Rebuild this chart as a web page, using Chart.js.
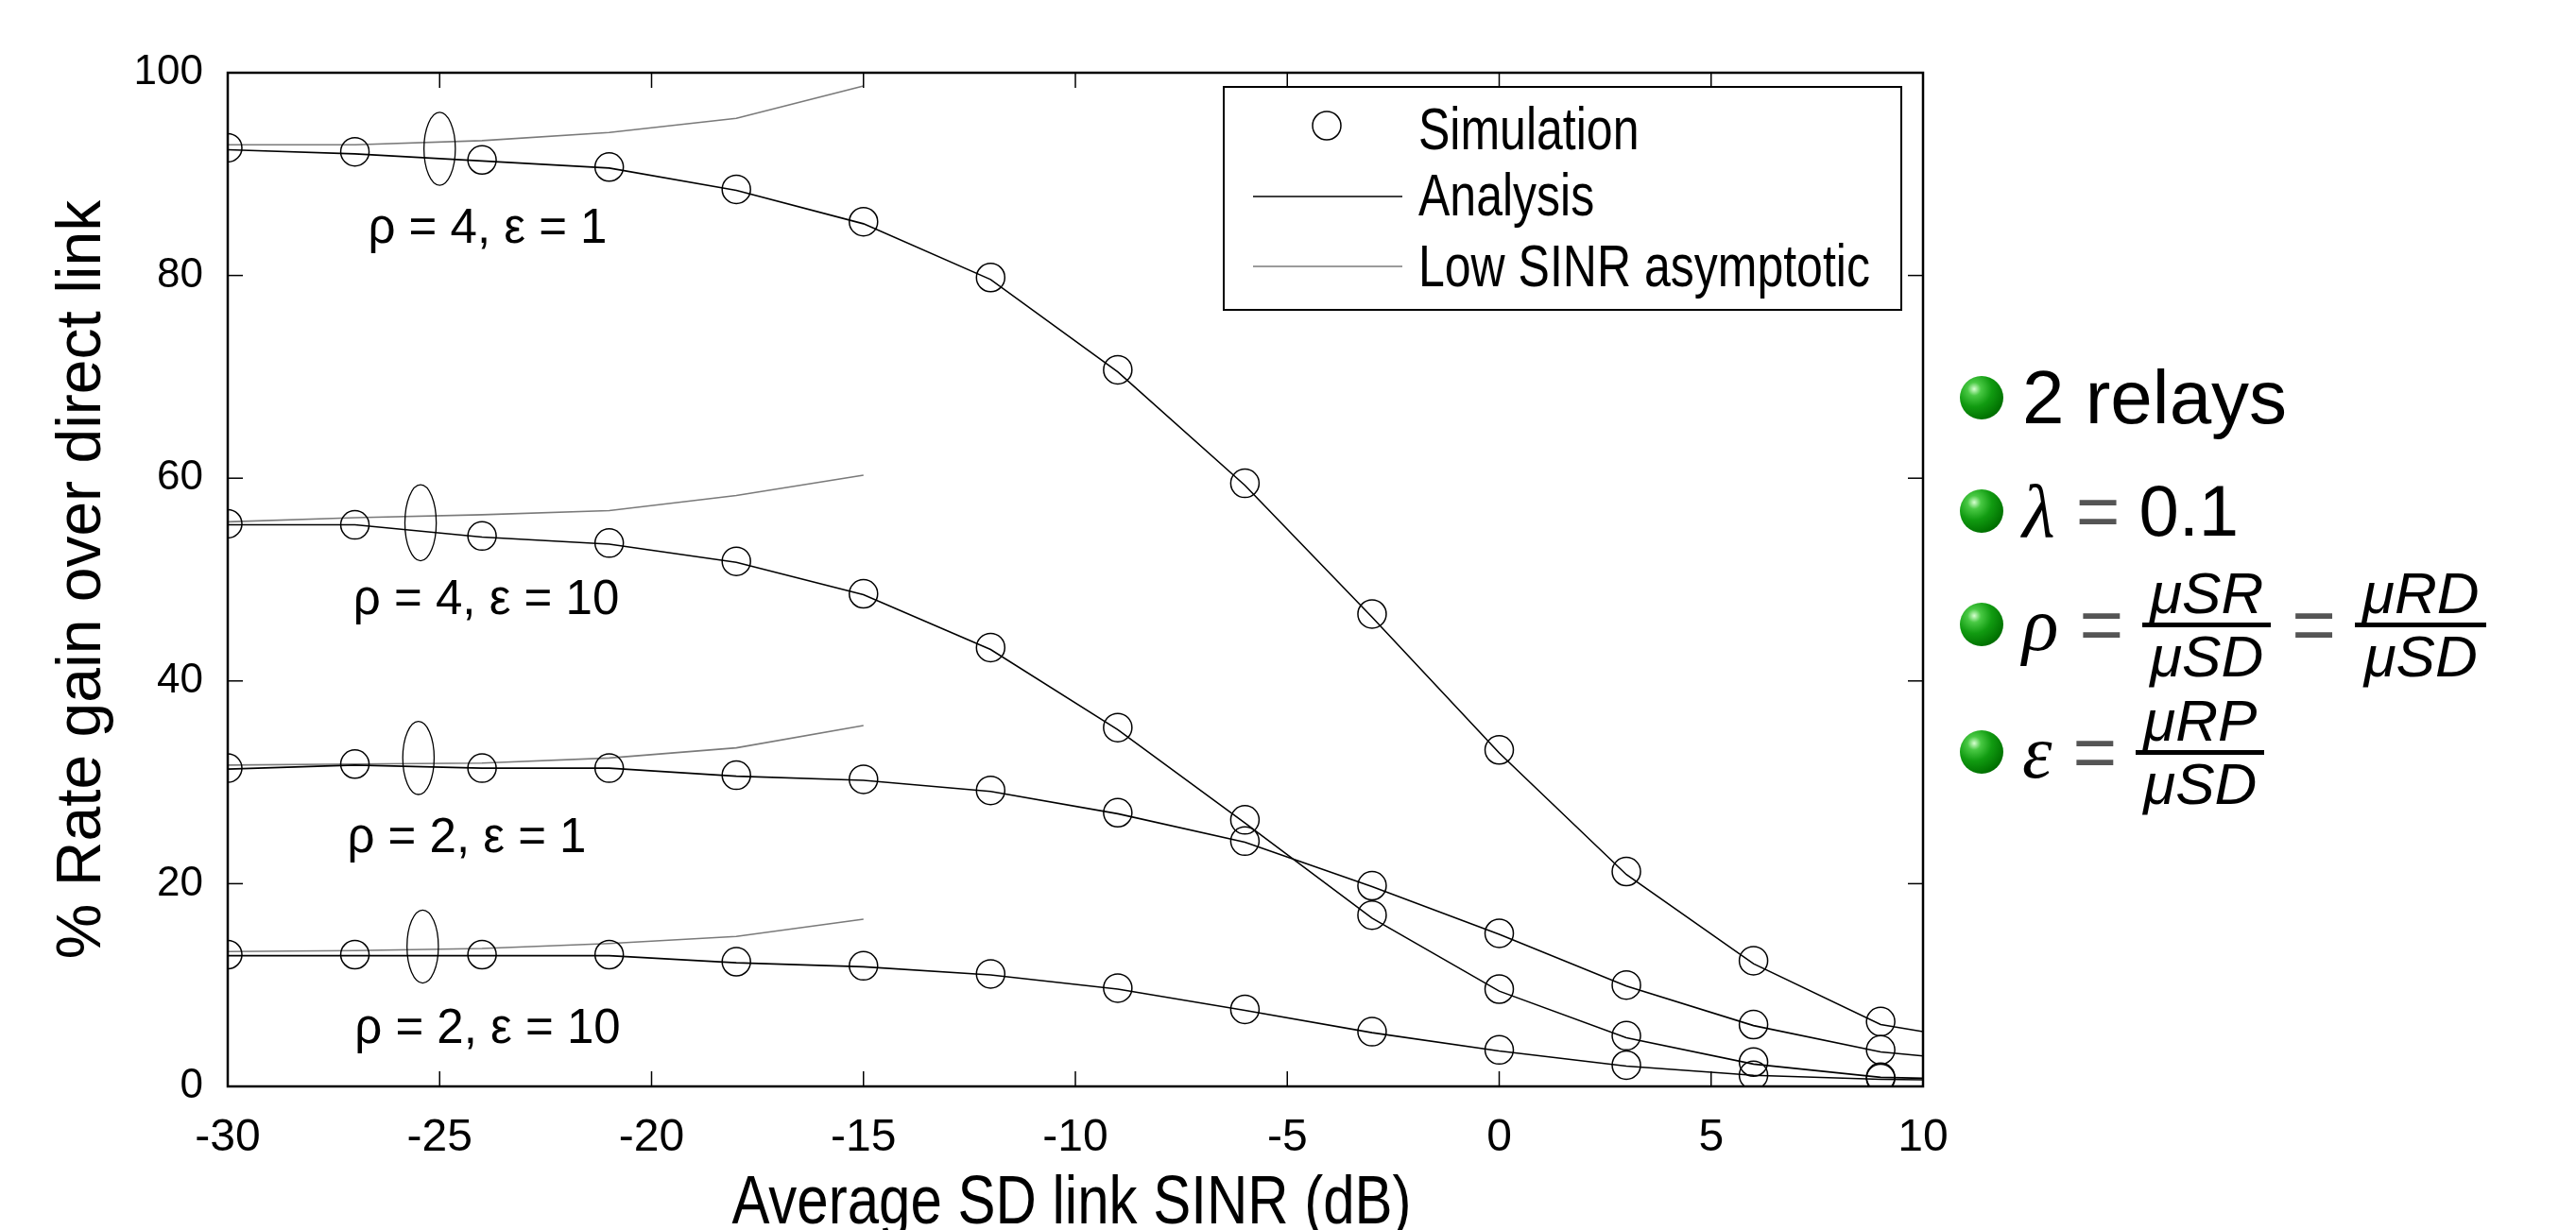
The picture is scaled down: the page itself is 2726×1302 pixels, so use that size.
<!DOCTYPE html>
<html>
<head>
<meta charset="utf-8">
<script src="https://cdn.jsdelivr.net/npm/chart.js@4.4.1/dist/chart.umd.min.js"></script>
<style>
  html, body { margin: 0; padding: 0; background: #fff; }
  #wrap { position: relative; width: 2726px; height: 1302px; overflow: hidden; }
  #notes { font-family: 'Liberation Sans', Arial, sans-serif; color: #000; }
  .row { position: absolute; left: 2074px; height: 120px; display: flex; align-items: center; white-space: nowrap; }
  .ball {
    width: 46px; height: 46px; border-radius: 50%; margin-right: 20px; flex: none;
    background: radial-gradient(circle at 33% 30%, #d6ffd0 0, #49c944 16%, #119b11 42%, #007000 75%, #005000 100%);
  }
  .txt { font-size: 80px; line-height: 1; }
  .small { font-size: 76px; }
  .gk { font-family: 'Liberation Serif', serif; font-style: italic; font-size: 80px; line-height: 1; }
  .eq { color: #555; font-size: 80px; line-height: 1; margin: 0 20px 0 22px; }
  .frac { display: inline-flex; flex-direction: column; align-items: center; font-size: 62px; font-style: italic; line-height: 1; }
  .frac .num { border-bottom: 5px solid #000; padding: 0 8px; }
  .frac .den { padding: 0 8px; }
</style>
</head>
<body>
<div id="wrap">
  <canvas id="grafico" width="2726" height="1302"></canvas>
  <div id="notes">
    <div class="row" style="top:361px"><div class="ball"></div><span class="txt">2 relays</span></div>
    <div class="row" style="top:481px"><div class="ball"></div><span class="gk">λ</span><span class="eq">=</span><span class="txt small">0.1</span></div>
    <div class="row" style="top:601px"><div class="ball"></div><span class="gk">ρ</span><span class="eq">=</span>
      <span class="frac"><span class="num">μSR</span><span class="den">μSD</span></span><span class="eq">=</span>
      <span class="frac"><span class="num">μRD</span><span class="den">μSD</span></span></div>
    <div class="row" style="top:736px"><div class="ball"></div><span class="gk">ε</span><span class="eq">=</span>
      <span class="frac"><span class="num">μRP</span><span class="den">μSD</span></span></div>
  </div>
</div>
<script>
// eixos
const xSim = [-30, -27, -24, -21, -18, -15, -12, -9, -6, -3, 0, 3, 6, 9];
const xAna = [-30, -27, -24, -21, -18, -15, -12, -9, -6, -3, 0, 3, 6, 9, 10];
const xAsym = [-30, -27, -24, -21, -18, -15];
const xTicks = [-30, -25, -20, -15, -10, -5, 0, 5, 10];
const yTicks = [0, 20, 40, 60, 80, 100];
const xTitle = 'Average SD link SINR (dB)';
const yTitle = '% Rate gain over direct link';

// simulacao (circulos)
const simR4E1 = [92.6, 92.2, 91.4, 90.7, 88.5, 85.3, 79.8, 70.7, 59.5, 46.6, 33.2, 21.2, 12.4, 6.4];
const simR4E10 = [55.5, 55.4, 54.3, 53.6, 51.8, 48.6, 43.3, 35.4, 26.3, 16.9, 9.6, 5.0, 2.4, 0.9];
const simR2E1 = [31.4, 31.8, 31.4, 31.4, 30.7, 30.3, 29.2, 27.0, 24.2, 19.8, 15.1, 10.0, 6.1, 3.6];
const simR2E10 = [13.0, 13.0, 13.0, 13.0, 12.3, 11.9, 11.1, 9.7, 7.6, 5.4, 3.6, 2.1, 1.1, 0.8];

// analise (linha preta)
const anaR4E1 = [92.4, 92.0, 91.3, 90.6, 88.4, 85.1, 79.6, 70.5, 59.3, 46.3, 32.9, 20.9, 12.1, 6.1, 5.4];
const anaR4E10 = [55.4, 55.4, 54.2, 53.5, 51.7, 48.5, 43.1, 35.2, 26.0, 16.6, 9.4, 4.8, 2.2, 0.9, 0.8];
const anaR2E1 = [31.3, 31.7, 31.4, 31.4, 30.6, 30.2, 29.1, 26.9, 24.1, 19.7, 15.0, 9.9, 6.0, 3.4, 3.0];
const anaR2E10 = [12.9, 12.9, 12.9, 12.9, 12.2, 11.8, 11.0, 9.6, 7.5, 5.3, 3.5, 2.0, 1.1, 0.7, 0.65];

// assintotico baixo SINR (linha cinza)
const asyR4E1 = [92.9, 92.9, 93.3, 94.1, 95.5, 98.7];
const asyR4E10 = [55.7, 56.1, 56.4, 56.8, 58.3, 60.3];
const asyR2E1 = [31.7, 31.8, 31.9, 32.4, 33.4, 35.6];
const asyR2E10 = [13.3, 13.4, 13.6, 14.1, 14.8, 16.5];

// rotulos das curvas e elipses (coordenadas em dB / %)
const curveNames = ['ρ = 4, ε = 1', 'ρ = 4, ε = 10', 'ρ = 2, ε = 1', 'ρ = 2, ε = 10'];
const nameX = [-23.87, -23.9, -24.36, -23.87];
const nameY = [84.5, 47.9, 24.4, 5.6];
const ellX = [-25.0, -25.45, -25.5, -25.4];
const ellY = [92.5, 55.6, 32.4, 13.8];
const ellRy = [3.6, 3.75, 3.6, 3.6];
const ellRx = 0.37;

const legendNames = ['Simulation', 'Analysis', 'Low SINR asymptotic'];

const pts = (xs, ys) => xs.map((x, i) => ({ x: x, y: ys[i] }));
const datasets = [];
[simR4E1, simR4E10, simR2E1, simR2E10].forEach(s => datasets.push({
  label: legendNames[0], data: pts(xSim, s), showLine: false,
  pointRadius: 15, pointBorderWidth: 1.5, pointBorderColor: '#000', pointBackgroundColor: 'rgba(0,0,0,0)'
}));
[anaR4E1, anaR4E10, anaR2E1, anaR2E10].forEach(s => datasets.push({
  label: legendNames[1], data: pts(xAna, s), showLine: true,
  borderColor: '#000', borderWidth: 1.6, pointRadius: 0, tension: 0
}));
[asyR4E1, asyR4E10, asyR2E1, asyR2E10].forEach(s => datasets.push({
  label: legendNames[2], data: pts(xAsym, s), showLine: true,
  borderColor: '#7a7a7a', borderWidth: 1.6, pointRadius: 0, tension: 0
}));

function seg(ctx, x1, y1, x2, y2) {
  ctx.beginPath(); ctx.moveTo(x1, y1); ctx.lineTo(x2, y2); ctx.stroke();
}

// texto esticado na vertical (a figura original foi esticada)
function tallText(ctx, t, x, y, size, sy, align) {
  ctx.save();
  ctx.translate(x, y);
  ctx.scale(1, sy);
  ctx.font = size + 'px "Liberation Sans", Arial, sans-serif';
  ctx.textAlign = align;
  ctx.textBaseline = 'alphabetic';
  ctx.fillText(t, 0, 0);
  ctx.restore();
}

// moldura e marcas internas estilo matlab
const moldura = {
  id: 'moldura',
  afterDatasetsDraw(chart) {
    const { ctx, chartArea: a, scales: { x, y } } = chart;
    ctx.save();
    ctx.strokeStyle = '#000';
    ctx.lineWidth = 1.5;
    xTicks.forEach(v => {
      const p = x.getPixelForValue(v);
      seg(ctx, p, a.bottom, p, a.bottom - 16);
      seg(ctx, p, a.top, p, a.top + 16);
    });
    yTicks.forEach(v => {
      const p = y.getPixelForValue(v);
      seg(ctx, a.left, p, a.left + 16, p);
      seg(ctx, a.right, p, a.right - 16, p);
    });
    ctx.lineWidth = 2.5;
    ctx.strokeRect(a.left, a.top, a.right - a.left, a.bottom - a.top);
    ctx.fillStyle = '#000';
    tallText(ctx, xTitle, (a.left + a.right) / 2 - 4, 1295, 60, 1.2, 'center');
    ctx.restore();
  }
};

// elipses e nomes das curvas
const anotacoes = {
  id: 'anotacoes',
  afterDatasetsDraw(chart) {
    const { ctx, scales: { x, y } } = chart;
    ctx.save();
    ctx.strokeStyle = '#000';
    ctx.lineWidth = 1.3;
    ellX.forEach((ex, i) => {
      const cx = x.getPixelForValue(ex);
      const cy = y.getPixelForValue(ellY[i]);
      const rx = x.getPixelForValue(ex + ellRx) - cx;
      const ry = cy - y.getPixelForValue(ellY[i] + ellRy[i]);
      ctx.beginPath(); ctx.ellipse(cx, cy, rx, ry, 0, 0, Math.PI * 2); ctx.stroke();
    });
    ctx.fillStyle = '#000';
    ctx.font = '51px "Liberation Sans"';
    ctx.textAlign = 'center';
    ctx.textBaseline = 'middle';
    curveNames.forEach((t, i) => ctx.fillText(t, x.getPixelForValue(nameX[i]), y.getPixelForValue(nameY[i])));
    ctx.restore();
  }
};

// legenda dentro do grafico
const legenda = {
  id: 'legenda',
  afterDraw(chart) {
    const { ctx, chartArea: a } = chart;
    const left = a.right - 740, top = a.top + 15, w = 717, h = 236;
    ctx.save();
    ctx.fillStyle = '#fff';
    ctx.fillRect(left, top, w, h);
    ctx.strokeStyle = '#000';
    ctx.lineWidth = 2;
    ctx.strokeRect(left, top, w, h);
    const marks = [top + 41, top + 116, top + 190];
    const bases = [top + 66, top + 136, top + 211];
    ctx.lineWidth = 1.5;
    ctx.beginPath(); ctx.arc(left + 109, marks[0], 15, 0, Math.PI * 2); ctx.stroke();
    ctx.lineWidth = 1.6;
    seg(ctx, left + 31, marks[1], left + 189, marks[1]);
    ctx.strokeStyle = '#7a7a7a';
    seg(ctx, left + 31, marks[2], left + 189, marks[2]);
    ctx.fillStyle = '#000';
    legendNames.forEach((t, i) => tallText(ctx, t, left + 206, bases[i], 50, 1.25, 'left'));
    ctx.restore();
  }
};

Chart.defaults.font.family = '"Liberation Sans", Arial, sans-serif';
Chart.defaults.color = '#000';

const ctx = document.getElementById('grafico');

new Chart(ctx, {
  type: 'scatter',
  data: { datasets: datasets },
  options: {
    responsive: false,
    animation: false,
    devicePixelRatio: 1,
    layout: { padding: { top: 77, right: 691, left: 0, bottom: 0 } },
    plugins: { legend: { display: false }, tooltip: { enabled: false } },
    scales: {
      x: {
        type: 'linear', min: -30, max: 10,
        afterFit(s) { s.height = 152; },
        afterBuildTicks(s) { s.ticks = xTicks.map(v => ({ value: v })); },
        grid: { display: false },
        border: { display: false },
        ticks: { padding: 18, font: { size: 48 }, maxRotation: 0, autoSkip: false },
        title: { display: false, text: xTitle }
      },
      y: {
        type: 'linear', min: 0, max: 100,
        afterFit(s) { s.width = 241; },
        afterBuildTicks(s) { s.ticks = yTicks.map(v => ({ value: v })); },
        grid: { display: false },
        border: { display: false },
        ticks: { padding: 18, font: { size: 44 } },
        title: {
          display: true, text: yTitle,
          font: { size: 66, lineHeight: 1 },
          padding: { top: 55, bottom: 0 }
        }
      }
    }
  },
  plugins: [anotacoes, moldura, legenda]
});
</script>
</body>
</html>
